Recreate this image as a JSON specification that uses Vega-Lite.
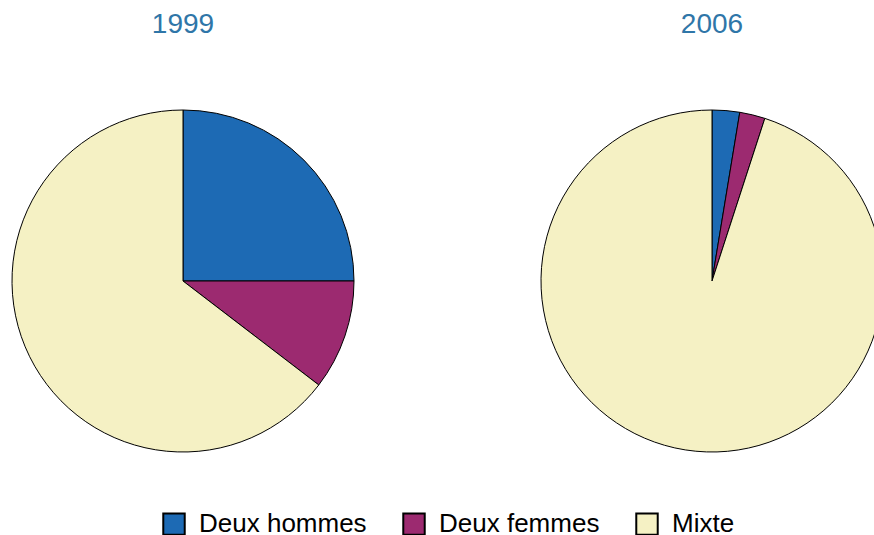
{
  "$schema": "https://vega.github.io/schema/vega-lite/v6.json",
  "padding": {"top": 11, "left": 5, "right": 5, "bottom": 5},
  "data": {"values": [
    {"annee": "1999", "type": "Deux hommes", "rang": 1, "part": 25.0},
    {"annee": "1999", "type": "Deux femmes", "rang": 2, "part": 10.4},
    {"annee": "1999", "type": "Mixte", "rang": 3, "part": 64.6},
    {"annee": "2006", "type": "Deux hommes", "rang": 1, "part": 2.6},
    {"annee": "2006", "type": "Deux femmes", "rang": 2, "part": 2.4},
    {"annee": "2006", "type": "Mixte", "rang": 3, "part": 95.0}
  ]},
  "facet": {"column": {"field": "annee", "type": "nominal", "header": {"title": null, "labelFontSize": 28, "labelColor": "#2f76a8", "labelPadding": 12, "labelFont": "Liberation Sans"}}},
  "spacing": 173,
  "spec": {
    "width": 356,
    "height": 460,
    "mark": {"type": "arc", "outerRadius": 171, "stroke": "#000000", "strokeWidth": 1},
    "encoding": {
      "theta": {"field": "part", "type": "quantitative", "stack": true},
      "order": {"field": "rang", "type": "quantitative", "sort": "ascending"},
      "color": {
        "field": "type", "type": "nominal",
        "sort": ["Deux hommes", "Deux femmes", "Mixte"],
        "scale": {"domain": ["Deux hommes", "Deux femmes", "Mixte"], "range": ["#1d6ab4", "#9c2a70", "#f5f1c4"]},
        "legend": {"title": null, "orient": "none", "legendX": 156, "legendY": 460, "direction": "horizontal", "symbolType": "square", "symbolSize": 460, "symbolStrokeColor": "#000000", "symbolStrokeWidth": 2, "symbolOpacity": 1, "labelFontSize": 26, "labelOffset": 12, "labelLimit": 0, "columnPadding": 32, "labelColor": "#000000"}
      }
    }
  },
  "config": {"font": "Liberation Sans", "view": {"stroke": null}}
}
